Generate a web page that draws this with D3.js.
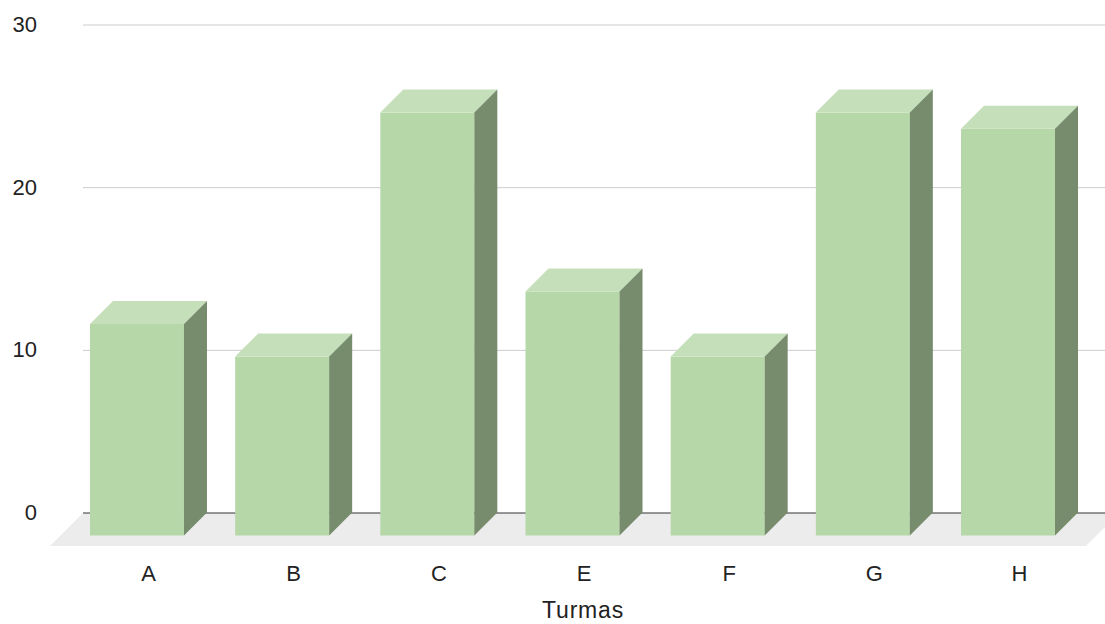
<!DOCTYPE html>
<html>
<head>
<meta charset="utf-8">
<script src="https://cdn.jsdelivr.net/npm/d3@7"></script>
<style>
  html, body { margin: 0; padding: 0; background: #fff; }
  svg { display: block; font-family: "Liberation Sans", Arial, sans-serif; }
</style>
</head>
<body>
<svg id="chart" width="1105" height="624"></svg>
<script>
// Students per class
const categories = ["A", "B", "C", "E", "F", "G", "H"];
const values = [13, 11, 26, 15, 11, 26, 25];
const yTicks = [0, 10, 20, 30];
const xTitle = "Turmas";

const W = 1105, H = 624;
const svg = d3.select("#chart");

// Back wall of the plot (where gridlines live)
const wall = { left: 83, right: 1105, top: 24.5, bottom: 512.5 };
const barDepth = 23;    // extrusion of each bar
const floorDepth = 33;  // depth of the floor slab

const x = d3.scaleBand()
  .domain(categories)
  .range([87.4, 1103.6])
  .paddingInner(0.3525)
  .paddingOuter(0.17625);

const y = d3.scaleLinear()
  .domain([0, 30])
  .range([wall.bottom, wall.top]);

const colors = {
  front: "#b6d7a8",
  top: "#c5dfba",
  side: "#778c6d",
  floor: "#ececec",
  grid: "#cccccc",
  zero: "#333333",
  text: "#222222"
};

// Floor slab
const fl = wall.left, fr = wall.right + 14, fy = wall.bottom + 0.5;
svg.append("polygon")
  .attr("points", [
    [fl, fy], [fr, fy],
    [fr - floorDepth, fy + floorDepth], [fl - floorDepth, fy + floorDepth]
  ].map(p => p.join(",")).join(" "))
  .attr("fill", colors.floor);

// Y axis with gridlines across the back wall
const yAxis = svg.append("g")
  .attr("transform", `translate(${wall.left},0)`)
  .call(d3.axisLeft(y)
    .tickValues(yTicks)
    .tickSize(-(wall.right - wall.left))
    .tickPadding(46));
yAxis.select(".domain").remove();
yAxis.selectAll(".tick line")
  .attr("stroke", d => d === 0 ? colors.zero : colors.grid)
  .attr("stroke-width", 1);
yAxis.selectAll(".tick text")
  .attr("fill", colors.text)
  .style("font-size", "22px")
  .style("font-family", "'Liberation Sans', Arial, sans-serif");

// Bars: front face, top face, right side face
const bars = svg.append("g").selectAll("g.bar")
  .data(categories.map((c, i) => ({ c, v: values[i] })))
  .join("g").attr("class", "bar");

bars.each(function (d) {
  const g = d3.select(this);
  const bw = x.bandwidth();
  const bx = x(d.c) - barDepth;        // front face left
  const by = y(d.v) + barDepth;        // front face top
  const bb = y(0) + barDepth;          // front face bottom
  // front
  g.append("rect")
    .attr("x", bx).attr("y", by)
    .attr("width", bw).attr("height", bb - by)
    .attr("fill", colors.front);
  // top
  g.append("polygon")
    .attr("points", [
      [bx, by], [bx + barDepth, by - barDepth],
      [bx + bw + barDepth, by - barDepth], [bx + bw, by]
    ].map(p => p.join(",")).join(" "))
    .attr("fill", colors.top);
  // side
  g.append("polygon")
    .attr("points", [
      [bx + bw, by], [bx + bw + barDepth, by - barDepth],
      [bx + bw + barDepth, bb - barDepth], [bx + bw, bb]
    ].map(p => p.join(",")).join(" "))
    .attr("fill", colors.side);
});

// Category labels, centred at mid-depth of each bar
const xAxis = svg.append("g")
  .attr("transform", `translate(${-barDepth / 2},565)`)
  .call(d3.axisBottom(x).tickSize(0).tickPadding(0));
xAxis.select(".domain").remove();
xAxis.selectAll(".tick text")
  .attr("fill", colors.text)
  .attr("dy", "0.71em")
  .style("font-size", "22px")
  .style("font-family", "'Liberation Sans', Arial, sans-serif");

// Axis title
svg.append("text")
  .attr("x", 583)
  .attr("y", 618)
  .attr("text-anchor", "middle")
  .attr("fill", colors.text)
  .style("font-size", "23px")
  .style("letter-spacing", "0.8px")
  .text(xTitle);
</script>
</body>
</html>
